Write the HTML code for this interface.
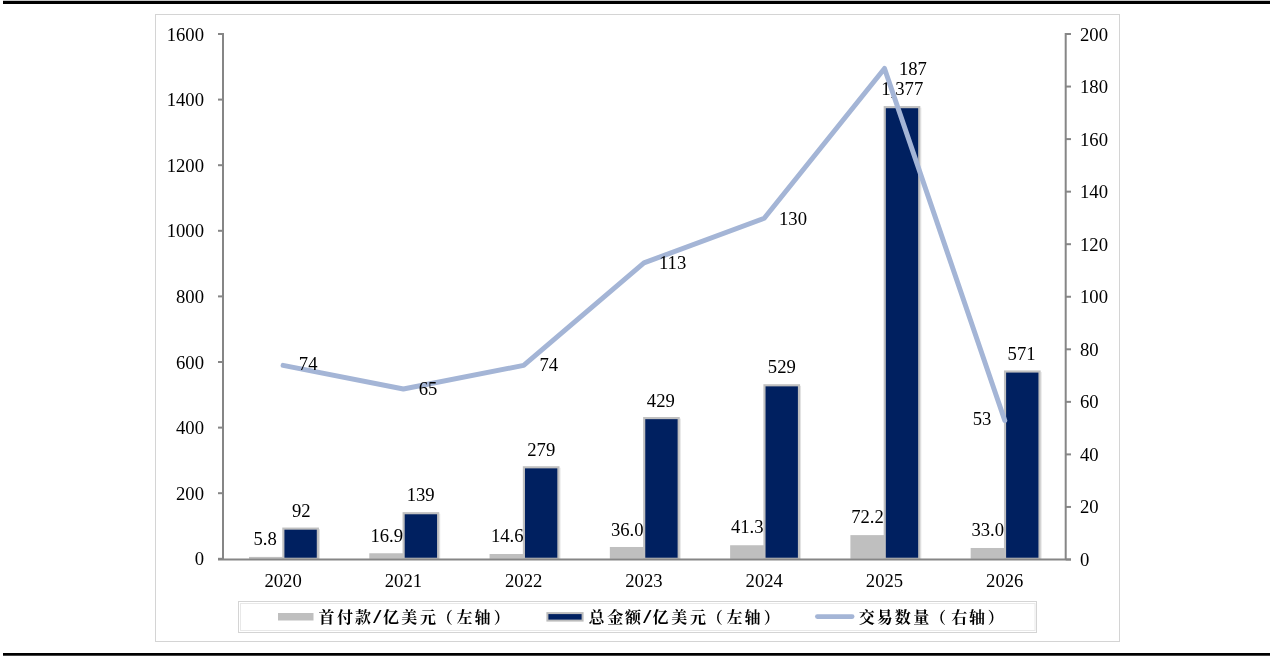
<!DOCTYPE html><html><head><meta charset="utf-8"><style>html,body{margin:0;padding:0;background:#fff;overflow:hidden}svg{display:block;will-change:transform}.t{font-family:"Liberation Serif",serif;font-size:18.67px;fill:#000}.c{font-family:"Liberation Serif","Noto Serif CJK SC",serif;font-size:16px;font-weight:700;fill:#000}.sl{font-size:18px;font-stretch:normal}</style></head><body>
<svg width="1270" height="656" viewBox="0 0 1270 656">
<rect x="3" y="0" width="1267" height="1" fill="#c8c8c8"/><rect x="3" y="1" width="1267" height="3" fill="#000"/>
<rect x="3" y="653" width="1267" height="2" fill="#000"/><rect x="3" y="655" width="1267" height="1" fill="#444"/>
<rect x="155.5" y="14.5" width="964" height="627" fill="none" stroke="#d4d4d4" stroke-width="1"/>
<rect x="249.00" y="556.90" width="34.50" height="1.90" fill="#bfbfbf"/>
<rect x="318.92" y="529.12" width="1" height="30.18" fill="#e2e2e2"/>
<rect x="283.35" y="528.62" width="34.5" height="30.18" fill="#002060" stroke="#c0c0c0" stroke-width="2.15"/>
<rect x="369.28" y="553.26" width="34.50" height="5.54" fill="#bfbfbf"/>
<rect x="439.20" y="513.71" width="1" height="45.59" fill="#e2e2e2"/>
<rect x="403.63" y="513.21" width="34.5" height="45.59" fill="#002060" stroke="#c0c0c0" stroke-width="2.15"/>
<rect x="489.56" y="554.01" width="34.50" height="4.79" fill="#bfbfbf"/>
<rect x="559.48" y="467.79" width="1" height="91.51" fill="#e2e2e2"/>
<rect x="523.91" y="467.29" width="34.5" height="91.51" fill="#002060" stroke="#c0c0c0" stroke-width="2.15"/>
<rect x="609.84" y="546.99" width="34.50" height="11.81" fill="#bfbfbf"/>
<rect x="679.76" y="418.59" width="1" height="140.71" fill="#e2e2e2"/>
<rect x="644.19" y="418.09" width="34.5" height="140.71" fill="#002060" stroke="#c0c0c0" stroke-width="2.15"/>
<rect x="730.12" y="545.25" width="34.50" height="13.55" fill="#bfbfbf"/>
<rect x="800.04" y="385.79" width="1" height="173.51" fill="#e2e2e2"/>
<rect x="764.47" y="385.29" width="34.5" height="173.51" fill="#002060" stroke="#c0c0c0" stroke-width="2.15"/>
<rect x="850.40" y="535.12" width="34.50" height="23.68" fill="#bfbfbf"/>
<rect x="920.32" y="107.64" width="1" height="451.66" fill="#e2e2e2"/>
<rect x="884.75" y="107.14" width="34.5" height="451.66" fill="#002060" stroke="#c0c0c0" stroke-width="2.15"/>
<rect x="970.68" y="547.98" width="34.50" height="10.82" fill="#bfbfbf"/>
<rect x="1040.60" y="372.01" width="1" height="187.29" fill="#e2e2e2"/>
<rect x="1005.03" y="371.51" width="34.5" height="187.29" fill="#002060" stroke="#c0c0c0" stroke-width="2.15"/>
<g stroke="#868686" stroke-width="2" fill="none">
<path d="M223.0 33.0 V559.5 M218 559.5 H1071 M1065.7 33.0 V559.5"/>
<path d="M218 558.80 H223.0"/>
<path d="M218 493.20 H223.0"/>
<path d="M218 427.60 H223.0"/>
<path d="M218 362.00 H223.0"/>
<path d="M218 296.40 H223.0"/>
<path d="M218 230.80 H223.0"/>
<path d="M218 165.20 H223.0"/>
<path d="M218 99.60 H223.0"/>
<path d="M218 34.00 H223.0"/>
<path d="M1065.7 559.50 H1071"/>
<path d="M1065.7 506.95 H1071"/>
<path d="M1065.7 454.40 H1071"/>
<path d="M1065.7 401.85 H1071"/>
<path d="M1065.7 349.30 H1071"/>
<path d="M1065.7 296.75 H1071"/>
<path d="M1065.7 244.20 H1071"/>
<path d="M1065.7 191.65 H1071"/>
<path d="M1065.7 139.10 H1071"/>
<path d="M1065.7 86.55 H1071"/>
<path d="M1065.7 34.00 H1071"/>
</g>
<text class="t" x="265.10" y="545.20" text-anchor="middle">5.8</text>
<text class="t" x="301.30" y="516.92" text-anchor="middle">92</text>
<text class="t" x="386.78" y="542.26" text-anchor="middle">16.9</text>
<text class="t" x="420.68" y="501.21" text-anchor="middle">139</text>
<text class="t" x="507.26" y="542.01" text-anchor="middle">14.6</text>
<text class="t" x="541.26" y="455.54" text-anchor="middle">279</text>
<text class="t" x="627.29" y="535.89" text-anchor="middle">36.0</text>
<text class="t" x="660.84" y="406.84" text-anchor="middle">429</text>
<text class="t" x="747.22" y="533.25" text-anchor="middle">41.3</text>
<text class="t" x="781.82" y="373.29" text-anchor="middle">529</text>
<text class="t" x="867.50" y="523.12" text-anchor="middle">72.2</text>
<text class="t" x="902.25" y="95.44" text-anchor="middle">1,377</text>
<text class="t" x="987.78" y="535.98" text-anchor="middle">33.0</text>
<text class="t" x="1021.58" y="359.76" text-anchor="middle">571</text>
<polyline points="283.10,365.37 403.38,389.01 523.66,365.37 643.94,262.89 764.22,218.23 884.50,68.46 1004.78,420.54" fill="none" stroke="#a4b5d6" stroke-width="5" stroke-linejoin="round" stroke-linecap="round"/>
<text class="t" x="298.80" y="363.96" dominant-baseline="central">74</text>
<text class="t" x="418.73" y="388.61" dominant-baseline="central">65</text>
<text class="t" x="539.46" y="364.37" dominant-baseline="central">74</text>
<text class="t" x="658.94" y="262.59" dominant-baseline="central">113</text>
<text class="t" x="779.02" y="218.28" dominant-baseline="central">130</text>
<text class="t" x="898.90" y="68.06" dominant-baseline="central">187</text>
<text class="t" x="991.33" y="418.24" text-anchor="end" dominant-baseline="central">53</text>
<text class="t" x="204" y="558.80" text-anchor="end" dominant-baseline="central">0</text>
<text class="t" x="204" y="493.20" text-anchor="end" dominant-baseline="central">200</text>
<text class="t" x="204" y="427.60" text-anchor="end" dominant-baseline="central">400</text>
<text class="t" x="204" y="362.00" text-anchor="end" dominant-baseline="central">600</text>
<text class="t" x="204" y="296.40" text-anchor="end" dominant-baseline="central">800</text>
<text class="t" x="204" y="230.80" text-anchor="end" dominant-baseline="central">1000</text>
<text class="t" x="204" y="165.20" text-anchor="end" dominant-baseline="central">1200</text>
<text class="t" x="204" y="99.60" text-anchor="end" dominant-baseline="central">1400</text>
<text class="t" x="204" y="34.00" text-anchor="end" dominant-baseline="central">1600</text>
<text class="t" x="1080" y="559.50" dominant-baseline="central">0</text>
<text class="t" x="1080" y="506.95" dominant-baseline="central">20</text>
<text class="t" x="1080" y="454.40" dominant-baseline="central">40</text>
<text class="t" x="1080" y="401.85" dominant-baseline="central">60</text>
<text class="t" x="1080" y="349.30" dominant-baseline="central">80</text>
<text class="t" x="1080" y="296.75" dominant-baseline="central">100</text>
<text class="t" x="1080" y="244.20" dominant-baseline="central">120</text>
<text class="t" x="1080" y="191.65" dominant-baseline="central">140</text>
<text class="t" x="1080" y="139.10" dominant-baseline="central">160</text>
<text class="t" x="1080" y="86.55" dominant-baseline="central">180</text>
<text class="t" x="1080" y="34.00" dominant-baseline="central">200</text>
<text class="t" x="283.10" y="587" text-anchor="middle">2020</text>
<text class="t" x="403.38" y="587" text-anchor="middle">2021</text>
<text class="t" x="523.66" y="587" text-anchor="middle">2022</text>
<text class="t" x="643.94" y="587" text-anchor="middle">2023</text>
<text class="t" x="764.22" y="587" text-anchor="middle">2024</text>
<text class="t" x="884.50" y="587" text-anchor="middle">2025</text>
<text class="t" x="1004.78" y="587" text-anchor="middle">2026</text>
<rect x="238.5" y="601.5" width="798" height="31" fill="#fff" stroke="#d4d4d4" stroke-width="1"/>
<rect x="240.5" y="603.5" width="794.5" height="27" fill="none" stroke="#e8e8e8" stroke-width="1"/>
<rect x="278" y="613" width="35.5" height="7.5" fill="#bfbfbf"/>
<rect x="547.4" y="613.1" width="35.2" height="7.5" fill="#002060" stroke="#bcbcbc" stroke-width="2"/>
<path d="M817.3 616.6 H852.2" stroke="#a4b5d6" stroke-width="4.6" stroke-linecap="round"/>
<text class="c" y="622.5" text-anchor="middle"><tspan x="326.50">首</tspan><tspan x="345.05">付</tspan><tspan x="362.95">款</tspan><tspan class="sl" x="377.15" dy="0.3" textLength="8" lengthAdjust="spacingAndGlyphs">/</tspan><tspan x="390.90" dy="-0.3">亿</tspan><tspan x="409.15">美</tspan><tspan x="427.90">元</tspan><tspan x="444.80">（</tspan><tspan x="464.45">左</tspan><tspan x="482.60">轴</tspan><tspan x="501.70">）</tspan></text>
<text class="c" y="622.5" text-anchor="middle"><tspan x="596.40">总</tspan><tspan x="615.30">金</tspan><tspan x="633.00">额</tspan><tspan class="sl" x="647.20" dy="0.3" textLength="8" lengthAdjust="spacingAndGlyphs">/</tspan><tspan x="660.60" dy="-0.3">亿</tspan><tspan x="679.15">美</tspan><tspan x="697.90">元</tspan><tspan x="714.80">（</tspan><tspan x="734.45">左</tspan><tspan x="752.60">轴</tspan><tspan x="771.70">）</tspan></text>
<text class="c" y="622.5" text-anchor="middle"><tspan x="866.70">交</tspan><tspan x="884.70">易</tspan><tspan x="902.70">数</tspan><tspan x="921.20">量</tspan><tspan x="937.90">（</tspan><tspan x="959.20">右</tspan><tspan x="976.90">轴</tspan><tspan x="995.70">）</tspan></text>
</svg></body></html>
